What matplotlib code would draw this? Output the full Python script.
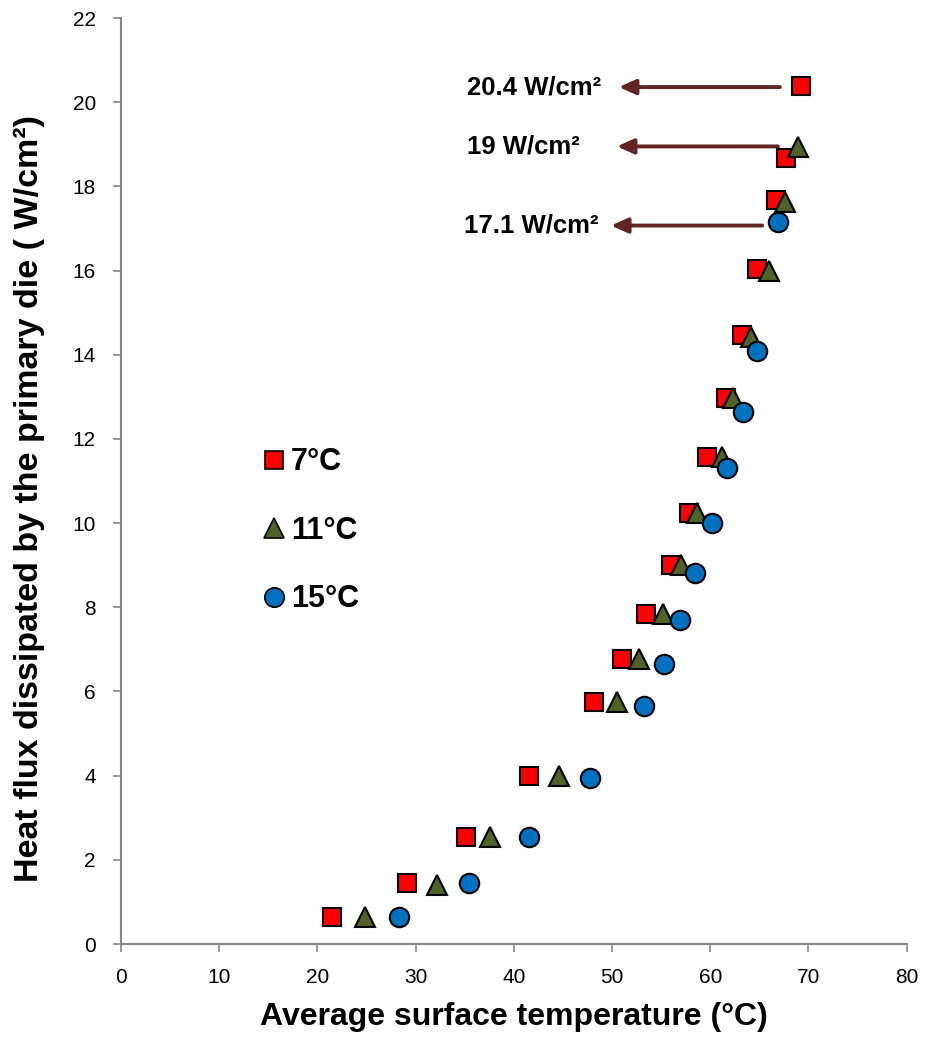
import matplotlib.pyplot as plt
from matplotlib.lines import Line2D

plt.rcParams['font.family'] = ['Liberation Sans', 'DejaVu Sans']

# 7 C coolant
t7 = [21.5, 29.1, 35.1, 41.5, 48.2, 51.0, 53.5, 56.0, 57.8, 59.7, 61.6, 63.2, 64.8, 66.7, 67.7, 69.2]
q7 = [0.64, 1.45, 2.54, 4.0, 5.75, 6.77, 7.85, 9.01, 10.25, 11.58, 12.98, 14.46, 16.03, 17.67, 18.67, 20.38]
# 11 C coolant
t11 = [24.8, 32.2, 37.6, 44.6, 50.5, 52.8, 55.2, 57.0, 58.7, 61.2, 62.3, 64.2, 66.0, 67.6, 68.9]
q11 = [0.64, 1.41, 2.54, 4.0, 5.75, 6.77, 7.85, 9.0, 10.25, 11.58, 12.98, 14.43, 15.98, 17.62, 18.93]
# 15 C coolant
t15 = [28.3, 35.4, 41.5, 47.8, 53.3, 55.3, 56.9, 58.5, 60.2, 61.7, 63.3, 64.8, 66.9]
q15 = [0.64, 1.45, 2.54, 3.95, 5.66, 6.66, 7.7, 8.82, 10.01, 11.3, 12.63, 14.08, 17.15]

# max heat flux annotations: label, y, arrow start x, arrow end x, text right edge
ann_labels = ['20.4 W/cm²', '19 W/cm²', '17.1 W/cm²']
ann_y = [20.36, 18.95, 17.07]
ann_x0 = [67.1, 66.9, 65.3]
ann_x1 = [50.7, 50.5, 49.9]
ann_textx = [48.9, 46.7, 48.6]

fig = plt.figure(figsize=(9.27, 10.42), dpi=100)
ax = fig.add_axes([0.1305, 0.094, 0.8475, 0.8887])

ms = 13.5
ax.plot(t7, q7, 's', color='#FF0000', mec='black', mew=1.5, ms=ms, label='7°C', zorder=3)
ax.plot(t11, q11, '^', color='#4F6228', mec='black', mew=1.5, ms=ms + 1, label='11°C', zorder=4)
ax.plot(t15, q15, 'o', color='#0070C0', mec='black', mew=1.5, ms=ms + 0.5, label='15°C', zorder=5)

for lab, y, x0, x1, tx in zip(ann_labels, ann_y, ann_x0, ann_x1, ann_textx):
    ax.annotate('', xy=(x1, y), xytext=(x0, y),
                arrowprops=dict(arrowstyle='-|>,head_length=1.0,head_width=0.45',
                                color='#632523', lw=2.8, shrinkA=0, shrinkB=0))
    ax.text(tx, y, lab, ha='right', va='center', fontsize=18.5, fontweight='bold')

ax.set_xlim(0, 80)
ax.set_ylim(0, 22)
ax.set_xticks(range(0, 81, 10))
ax.set_yticks(range(0, 23, 2))
ax.set_xlabel('Average surface temperature (°C)', fontsize=23, fontweight='bold', labelpad=11)
ax.set_ylabel('Heat flux dissipated by the primary die ( W/cm²)', fontsize=24.5, fontweight='bold')
ax.yaxis.set_label_coords(-0.097, 0.481)

for s in ['top', 'right']:
    ax.spines[s].set_visible(False)
for s in ['left', 'bottom']:
    ax.spines[s].set_color('#868686')
    ax.spines[s].set_linewidth(1.5)
ax.tick_params(colors='#868686', labelcolor='black', labelsize=15, length=6, width=1.2, direction='out')
ax.tick_params(axis='x', pad=11)
ax.tick_params(axis='y', pad=12)

handles = [Line2D([], [], ls='', marker='s', color='#FF0000', mec='black', mew=1.2, ms=13),
           Line2D([], [], ls='', marker='^', color='#4F6228', mec='black', mew=1.2, ms=14),
           Line2D([], [], ls='', marker='o', color='#0070C0', mec='black', mew=1.2, ms=14)]
leg = ax.legend(handles, ['7°C', '11°C', '15°C'], loc='upper left', bbox_to_anchor=(0.148, 0.566),
                frameon=False, handlelength=0.6, handletextpad=0.25, labelspacing=1.26,
                prop={'size': 22, 'weight': 'bold'})

plt.savefig('out.png', dpi=100)
